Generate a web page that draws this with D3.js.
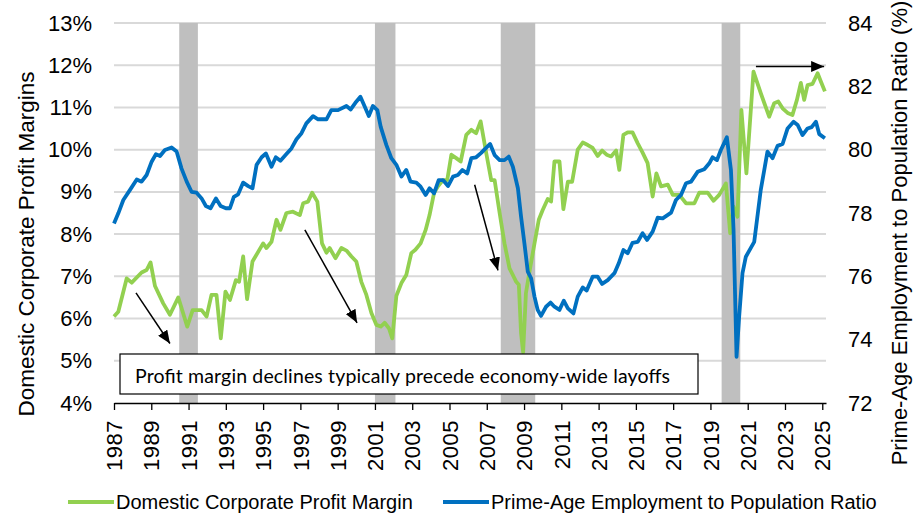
<!DOCTYPE html>
<html>
<head>
<meta charset="utf-8">
<script src="https://cdn.jsdelivr.net/npm/d3@7"></script>
<style>
  body { margin: 0; background: #fff; }
  svg text { font-family: "Liberation Sans", Arial, sans-serif; fill: #000; }
</style>
</head>
<body>
<div id="chart"></div>
<script>
// ---- data ----
// domestic corporate profit margin (%), left axis: [year, value]
const profitMargin = [
  [1987.0, 6.05], [1987.23, 6.16], [1987.68, 6.95], [1987.95, 6.85], [1988.48, 7.09], [1988.75, 7.15],
  [1988.96, 7.33], [1989.2, 6.77], [1989.64, 6.36], [1990.0, 6.09], [1990.45, 6.5], [1990.93, 5.81],
  [1991.22, 6.2], [1991.7, 6.2], [1991.97, 6.05], [1992.23, 6.56], [1992.5, 6.56], [1992.73, 5.53],
  [1992.98, 6.64], [1993.22, 6.44], [1993.54, 6.91], [1993.71, 6.87], [1993.93, 7.47], [1994.14, 6.46],
  [1994.43, 7.35], [1995.0, 7.78], [1995.18, 7.67], [1995.45, 7.82], [1995.72, 8.34], [1995.93, 8.1],
  [1996.25, 8.5], [1996.6, 8.53], [1996.97, 8.45], [1997.15, 8.73], [1997.41, 8.77], [1997.63, 8.98],
  [1997.91, 8.77], [1998.16, 7.78], [1998.4, 7.56], [1998.57, 7.67], [1998.88, 7.43], [1999.2, 7.67],
  [1999.47, 7.61], [1999.74, 7.47], [2000.0, 7.35], [2000.27, 6.87], [2000.54, 6.56], [2000.81, 6.13],
  [2001.08, 5.85], [2001.31, 5.81], [2001.52, 5.9], [2001.75, 5.77], [2001.93, 5.53], [2002.15, 6.54],
  [2002.42, 6.84], [2002.68, 7.03], [2002.95, 7.55], [2003.17, 7.63], [2003.45, 7.78], [2003.72, 8.1],
  [2003.93, 8.45], [2004.17, 8.97], [2004.38, 9.13], [2004.65, 9.28], [2004.88, 9.28], [2005.1, 9.88],
  [2005.36, 9.8], [2005.6, 9.72], [2005.9, 10.35], [2006.17, 10.47], [2006.43, 10.39], [2006.67, 10.67],
  [2006.97, 9.92], [2007.24, 9.28], [2007.42, 9.28], [2007.69, 8.5], [2007.95, 7.78], [2008.22, 7.19],
  [2008.58, 6.87], [2008.72, 6.8], [2008.84, 5.65], [2008.95, 5.2], [2009.1, 6.6], [2009.29, 7.11],
  [2009.56, 7.78], [2009.79, 8.34], [2010.0, 8.57], [2010.27, 8.83], [2010.45, 8.77], [2010.63, 9.72],
  [2010.9, 9.72], [2011.11, 8.59], [2011.35, 9.24], [2011.58, 9.24], [2011.88, 10.0], [2012.15, 10.17],
  [2012.42, 10.11], [2012.68, 10.04], [2012.95, 9.85], [2013.19, 9.98], [2013.43, 9.88], [2013.67, 9.84],
  [2013.94, 9.98], [2014.11, 9.52], [2014.33, 10.35], [2014.56, 10.41], [2014.82, 10.41], [2015.1, 10.15],
  [2015.36, 9.93], [2015.63, 9.68], [2015.9, 8.89], [2016.1, 9.44], [2016.35, 9.13], [2016.71, 9.17],
  [2016.98, 8.93], [2017.33, 8.93], [2017.69, 8.73], [2018.14, 8.73], [2018.4, 8.98], [2018.85, 8.98],
  [2019.17, 8.79], [2019.47, 8.93], [2019.83, 9.2], [2020.06, 8.02], [2020.24, 8.65], [2020.45, 8.41],
  [2020.66, 10.94], [2020.93, 9.44], [2021.31, 11.85], [2021.7, 11.34], [2022.15, 10.78], [2022.42, 11.1],
  [2022.64, 11.14], [2022.87, 10.98], [2023.14, 10.87], [2023.4, 10.82], [2023.64, 11.18], [2023.85, 11.58],
  [2024.03, 11.18], [2024.21, 11.53], [2024.48, 11.56], [2024.75, 11.81], [2024.93, 11.61], [2025.14, 11.38]
];

// prime-age employment to population ratio (%), right axis: [year, value]
const employmentRatio = [
  [1987.0, 77.67], [1987.23, 77.99], [1987.5, 78.41], [1987.86, 78.73], [1988.22, 79.06], [1988.48, 78.99],
  [1988.75, 79.2], [1989.02, 79.62], [1989.25, 79.86], [1989.47, 79.8], [1989.73, 79.99], [1990.09, 80.07],
  [1990.36, 79.94], [1990.62, 79.41], [1990.9, 78.99], [1991.16, 78.67], [1991.43, 78.64], [1991.7, 78.46],
  [1991.93, 78.22], [1992.18, 78.15], [1992.47, 78.46], [1992.72, 78.22], [1993.0, 78.15], [1993.22, 78.15],
  [1993.43, 78.51], [1993.66, 78.59], [1993.93, 78.96], [1994.2, 78.85], [1994.43, 78.78], [1994.65, 79.52],
  [1994.92, 79.76], [1995.15, 79.88], [1995.45, 79.46], [1995.68, 79.76], [1995.93, 79.65], [1996.25, 79.86],
  [1996.52, 80.04], [1996.79, 80.33], [1997.06, 80.52], [1997.32, 80.83], [1997.68, 81.06], [1997.95, 80.96],
  [1998.4, 80.96], [1998.66, 81.25], [1999.02, 81.25], [1999.47, 81.38], [1999.7, 81.27], [1999.95, 81.48],
  [2000.22, 81.67], [2000.45, 81.36], [2000.67, 81.06], [2000.89, 81.38], [2001.13, 81.25], [2001.31, 80.72],
  [2001.61, 80.15], [2001.88, 79.73], [2002.15, 79.52], [2002.42, 79.15], [2002.68, 79.36], [2002.91, 78.99],
  [2003.22, 78.96], [2003.45, 78.83], [2003.72, 78.57], [2003.93, 78.78], [2004.17, 78.62], [2004.42, 79.04],
  [2004.65, 79.04], [2004.92, 78.85], [2005.19, 79.15], [2005.45, 79.2], [2005.69, 79.36], [2005.95, 79.25],
  [2006.17, 79.73], [2006.43, 79.76], [2006.7, 79.9], [2006.88, 80.01], [2007.18, 80.18], [2007.42, 79.83],
  [2007.69, 79.67], [2007.95, 79.67], [2008.18, 79.78], [2008.4, 79.46], [2008.67, 78.78], [2008.84, 77.88],
  [2009.02, 77.04], [2009.2, 76.15], [2009.38, 75.94], [2009.56, 75.36], [2009.73, 74.94], [2009.91, 74.75],
  [2010.18, 75.04], [2010.42, 75.17], [2010.63, 75.04], [2010.9, 74.94], [2011.13, 75.23], [2011.35, 74.99],
  [2011.65, 74.83], [2011.88, 75.36], [2012.15, 75.65], [2012.36, 75.55], [2012.68, 75.99], [2012.95, 75.99],
  [2013.19, 75.76], [2013.49, 75.88], [2013.85, 76.1], [2014.08, 76.41], [2014.33, 76.83], [2014.56, 76.73],
  [2014.82, 77.06], [2015.1, 77.09], [2015.36, 77.36], [2015.6, 77.15], [2015.9, 77.41], [2016.17, 77.85],
  [2016.44, 77.83], [2016.89, 78.01], [2017.15, 78.41], [2017.42, 78.57], [2017.69, 78.94], [2017.96, 78.99],
  [2018.31, 79.3], [2018.67, 79.38], [2018.94, 79.57], [2019.11, 79.76], [2019.35, 79.67], [2019.56, 79.99],
  [2019.88, 80.39], [2020.1, 79.36], [2020.24, 77.46], [2020.4, 73.46], [2020.54, 74.72], [2020.72, 76.1],
  [2020.9, 76.62], [2021.35, 77.09], [2021.7, 78.73], [2022.06, 79.94], [2022.33, 79.73], [2022.6, 80.12],
  [2022.87, 80.18], [2023.14, 80.67], [2023.46, 80.88], [2023.68, 80.78], [2023.94, 80.46], [2024.21, 80.67],
  [2024.43, 80.71], [2024.66, 80.88], [2024.84, 80.49], [2025.14, 80.36]
];

// recessions (shaded), [start, end] in years
const recessions = [[1990.5, 1991.5], [2001.0, 2002.1], [2007.75, 2009.6], [2019.6, 2020.6]];

// arrows, in [year, profit margin %] units
const arrows = [
  [[1988.18, 6.61], [1990.0, 5.41]],
  [[1997.24, 8.1], [2000.04, 5.9]],
  [[2006.35, 9.17], [2007.6, 7.14]],
  [[2021.44, 11.97], [2025.1, 11.97]]
];

const yearTicks = d3.range(1987, 2026, 2);
const leftTicks = d3.range(4, 14, 1);
const rightTicks = d3.range(72, 85, 2);
const seriesNames = ["Domestic Corporate Profit Margin", "Prime-Age Employment to Population Ratio"];
const note = "Profit margin declines typically precede economy-wide layoffs";

// ---- layout ----
const W = 915, H = 513;
const margin = { top: 23, right: 89, bottom: 110, left: 114 };
const w = W - margin.left - margin.right;
const h = H - margin.top - margin.bottom;
const green = "#92d050", blue = "#0070c0";

const svg = d3.select("#chart").append("svg")
  .attr("width", W)
  .attr("height", H);

svg.append("defs").append("marker")
  .attr("id", "head")
  .attr("markerUnits", "userSpaceOnUse")
  .attr("markerWidth", 13).attr("markerHeight", 11)
  .attr("refX", 13).attr("refY", 5.5)
  .attr("orient", "auto")
  .append("path").attr("d", "M0,0 L13,5.5 L0,11 Z").attr("fill", "#000");

const chart = svg.append("g").attr("transform", `translate(${margin.left},${margin.top})`);

const x = d3.scaleLinear().domain([1987, 2025.2]).range([0, w]);
const yL = d3.scaleLinear().domain([4, 13]).range([h, 0]);
const yR = d3.scaleLinear().domain([72, 84]).range([h, 0]);

// gridlines
chart.append("g").selectAll("line")
  .data(leftTicks.slice(1))
  .join("line")
  .attr("x1", 0).attr("x2", w)
  .attr("y1", d => yL(d)).attr("y2", d => yL(d))
  .attr("stroke", "#d9d9d9").attr("stroke-width", 2);

// recession bars
chart.append("g").selectAll("rect")
  .data(recessions)
  .join("rect")
  .attr("x", d => x(d[0]))
  .attr("width", d => x(d[1]) - x(d[0]))
  .attr("y", 0).attr("height", h)
  .attr("fill", "#bfbfbf");

// lines
const lineL = d3.line().x(d => x(d[0])).y(d => yL(d[1]));
const lineR = d3.line().x(d => x(d[0])).y(d => yR(d[1]));

chart.append("path").datum(profitMargin)
  .attr("d", lineL).attr("fill", "none")
  .attr("stroke", green).attr("stroke-width", 3.8).attr("stroke-linejoin", "round");
chart.append("path").datum(employmentRatio)
  .attr("d", lineR).attr("fill", "none")
  .attr("stroke", blue).attr("stroke-width", 3.8).attr("stroke-linejoin", "round");

// arrows
chart.append("g").selectAll("line")
  .data(arrows)
  .join("line")
  .attr("x1", d => x(d[0][0])).attr("y1", d => yL(d[0][1]))
  .attr("x2", d => x(d[1][0])).attr("y2", d => yL(d[1][1]))
  .attr("stroke", "#000").attr("stroke-width", 1.5)
  .attr("marker-end", "url(#head)");

// note box
const box = chart.append("g").attr("transform", "translate(6,331)");
box.append("rect")
  .attr("width", 578).attr("height", 40)
  .attr("fill", "#fff").attr("stroke", "#000").attr("stroke-width", 1.2);
box.append("text")
  .attr("x", 15).attr("y", 29)
  .attr("textLength", 535).attr("lengthAdjust", "spacing")
  .style("font-family", "Lato, 'Open Sans', sans-serif")
  .style("font-size", "19.5px")
  .text(note);

// x axis
const xAxis = chart.append("g")
  .attr("transform", `translate(0,${h})`)
  .call(d3.axisBottom(x).tickValues(yearTicks).tickFormat(d3.format("d")).tickSize(7).tickSizeOuter(0));
xAxis.select(".domain").attr("stroke", "#000").attr("stroke-width", 1.3);
xAxis.selectAll(".tick line").attr("stroke", "#000").attr("stroke-width", 1.3);
xAxis.selectAll("text")
  .attr("transform", "rotate(-90)")
  .attr("text-anchor", "end")
  .attr("x", -17).attr("y", 0).attr("dy", "0.35em")
  .style("font-size", "22px")
  .style("letter-spacing", "0.5px");

// left axis
const leftAxis = chart.append("g")
  .call(d3.axisLeft(yL).tickValues(leftTicks).tickFormat(d => d + "%").tickSize(0).tickPadding(22));
leftAxis.select(".domain").remove();
leftAxis.selectAll("text").style("font-size", "22px");

// right axis
const rightAxis = chart.append("g")
  .attr("transform", `translate(${w},0)`)
  .call(d3.axisRight(yR).tickValues(rightTicks).tickSize(0).tickPadding(22));
rightAxis.select(".domain").remove();
rightAxis.selectAll("text").style("font-size", "22px");

// axis titles
svg.append("text")
  .attr("transform", "translate(33.5,244) rotate(-90)")
  .attr("text-anchor", "middle")
  .style("font-size", "22.5px")
  .text("Domestic Corporate Profit Margins");
svg.append("text")
  .attr("transform", "translate(907,233) rotate(-90)")
  .attr("text-anchor", "middle")
  .style("font-size", "22px")
  .text("Prime-Age Employment to Population Ratio (%)");

// legend
const legend = svg.append("g").attr("transform", "translate(0,502)");
const legendItems = [
  { name: seriesNames[0], color: green, x: 68 },
  { name: seriesNames[1], color: blue, x: 443 }
];
legendItems.forEach(d => {
  legend.append("line")
    .attr("x1", d.x).attr("x2", d.x + 46)
    .attr("y1", 0).attr("y2", 0)
    .attr("stroke", d.color).attr("stroke-width", 4);
  legend.append("text")
    .attr("x", d.x + 48).attr("y", 7)
    .style("font-size", "20px")
    .text(d.name);
});
</script>
</body>
</html>
